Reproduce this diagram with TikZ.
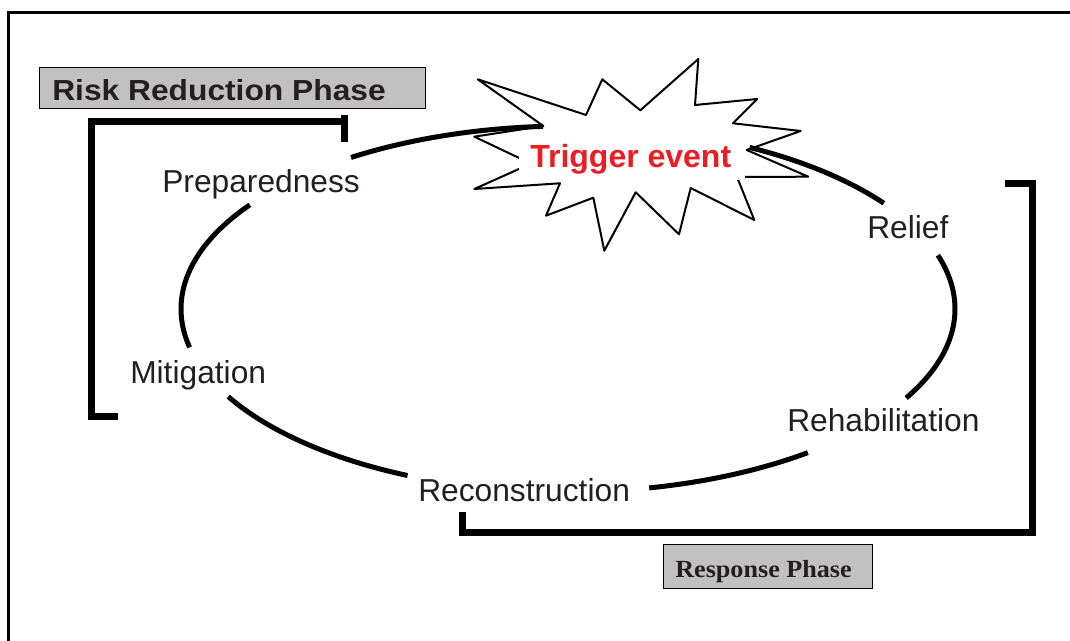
\documentclass[tikz,border=0pt]{standalone}
\usepackage{fontspec}
\usepackage{graphicx}
\newfontfamily\arialf{Liberation Sans}
\newfontfamily\timesf{Liberation Serif}
\definecolor{txt}{HTML}{231F20}
\definecolor{trig}{HTML}{ED1C24}
\definecolor{boxgray}{HTML}{C0C0C0}
\begin{document}
\begin{tikzpicture}[x=0.75pt,y=-0.75pt,
  lbl/.style={font=\arialf\fontsize{23.8}{27}\selectfont, text=txt, inner sep=0pt, anchor=base west},
  cyc/.style={line width=3.75pt, line cap=butt},
  brk/.style={line width=5.25pt, line join=miter},
  starsh/.style={draw=black, line width=1.5pt, fill=white, line join=round},
  phasebox/.style={draw=black, line width=0.9pt, fill=boxgray, inner sep=0pt, anchor=north west}
]
\useasboundingbox (0,0) rectangle (1070,641);
\clip (0,0) rectangle (1070,641);
% outer frame
\draw[line width=2.25pt] (8.5,12.5) rectangle (1100,700);

% phase boxes
\node[phasebox, minimum width=289.5pt, minimum height=30.75pt] (rrbox) at (39,67) {};
\node[font=\arialf\bfseries\fontsize{21.75}{25}\selectfont, text=txt, inner sep=0pt, anchor=base west] (rrtext) at (52,101) {\scalebox{1.095}[1]{Risk Reduction Phase}};
\node[phasebox, minimum width=156.75pt, minimum height=33pt] (rpbox) at (663,544) {};
\node[font=\timesf\bfseries\fontsize{18.5}{21}\selectfont, text=txt, inner sep=0pt, anchor=base west] (rptext) at (675,577) {\scalebox{1.06}[1]{Response Phase}};

% brackets
\draw[brk] (118,416) -- (91,416) -- (91,121.5) -- (347,121.5);
\draw[brk] (344,115) -- (344,142);
\draw[brk] (1005,184) -- (1032,184) -- (1032,532) -- (462,532) -- (462,512);

% trigger star
\draw[starsh] (477.7,79.3) -- (586,115) -- (602.3,79.3) -- (640.3,110.3) -- (698.3,59) -- (695,105)
  -- (757.3,99) -- (733,123.3) -- (800.7,131) -- (746.7,150) -- (808.3,176.7) -- (737,177)
  -- (754.3,220) -- (690.7,188) -- (679,234.3) -- (635.7,192.3) -- (604.3,250.7) -- (593.3,197.7)
  -- (546,215.7) -- (560,183.3) -- (474.3,189) -- (531,163.6) -- (474.3,136.7) -- (543.3,126) -- cycle;
\fill[white] (519,148) rectangle (745,180);

% cycle arcs
\draw[cyc] plot[domain=235.9:266.3, samples=40, smooth] ({568+387*cos(\x)},{309+183*sin(\x)});
\draw[cyc] plot[domain=-62:-35.3, samples=40, smooth] ({568+387*cos(\x)},{309+183*sin(\x)});
\draw[cyc] plot[domain=-17.1:29.1, samples=50, smooth] ({568+387*cos(\x)},{309+183*sin(\x)});
\draw[cyc] plot[domain=51.7:77.9, samples=40, smooth] ({568+387*cos(\x)},{309+183*sin(\x)});
\draw[cyc] plot[domain=114.5:151.4, samples=40, smooth] ({568+387*cos(\x)},{309+183*sin(\x)});
\draw[cyc] plot[domain=167.9:214.7, samples=50, smooth] ({568+387*cos(\x)},{309+183*sin(\x)});

% labels
\node[font=\arialf\bfseries\fontsize{24}{28}\selectfont, text=trig, inner sep=0pt, anchor=base west] (trigger) at (530,168) {Trigger event};
\node[lbl] (prep) at (162,193) {Preparedness};
\node[lbl] (relief) at (867,239) {Relief};
\node[lbl] (rehab) at (787,431) {Rehabilitation};
\node[lbl] (mitig) at (130,383) {Mitigation};
\node[lbl] (recon) at (418,501) {Reconstruction};
\end{tikzpicture}
\end{document}
